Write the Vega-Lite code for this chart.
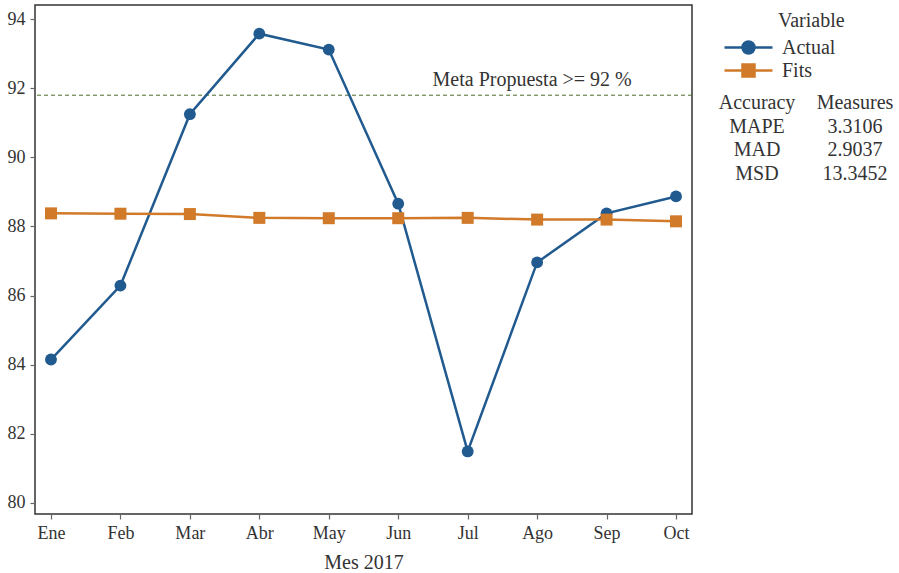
{
  "$schema": "https://vega.github.io/schema/vega-lite/v6.json",
  "padding": {"left": 6, "top": 4, "right": 0, "bottom": 0},
  "background": "white",
  "config": {
    "font": "Liberation Serif",
    "view": {"stroke": "#333333", "strokeWidth": 1.5},
    "axis": {
      "domain": false,
      "grid": false,
      "tickColor": "#666666",
      "tickSize": 5,
      "tickWidth": 1.2,
      "labelFontSize": 18,
      "labelColor": "#333333",
      "labelPadding": 5,
      "titleFontSize": 20,
      "titleFontWeight": "normal",
      "titleColor": "#333333"
    },
    "legend": {
      "titleFontSize": 20,
      "titleFontWeight": "normal",
      "titleColor": "#333333",
      "labelFontSize": 20,
      "labelColor": "#333333",
      "padding": 0
    }
  },
  "datasets": {
    "series": [
      {"mes": "Ene", "variable": "Actual", "valor": 84.15},
      {"mes": "Feb", "variable": "Actual", "valor": 86.29},
      {"mes": "Mar", "variable": "Actual", "valor": 91.25},
      {"mes": "Abr", "variable": "Actual", "valor": 93.58},
      {"mes": "May", "variable": "Actual", "valor": 93.12},
      {"mes": "Jun", "variable": "Actual", "valor": 88.66},
      {"mes": "Jul", "variable": "Actual", "valor": 81.49},
      {"mes": "Ago", "variable": "Actual", "valor": 86.96},
      {"mes": "Sep", "variable": "Actual", "valor": 88.38},
      {"mes": "Oct", "variable": "Actual", "valor": 88.87},
      {"mes": "Ene", "variable": "Fits", "valor": 88.38},
      {"mes": "Feb", "variable": "Fits", "valor": 88.37},
      {"mes": "Mar", "variable": "Fits", "valor": 88.36},
      {"mes": "Abr", "variable": "Fits", "valor": 88.25},
      {"mes": "May", "variable": "Fits", "valor": 88.24},
      {"mes": "Jun", "variable": "Fits", "valor": 88.24},
      {"mes": "Jul", "variable": "Fits", "valor": 88.25},
      {"mes": "Ago", "variable": "Fits", "valor": 88.2},
      {"mes": "Sep", "variable": "Fits", "valor": 88.2},
      {"mes": "Oct", "variable": "Fits", "valor": 88.15}
    ],
    "meta": [
      {"mes": "Ago", "valor": 91.8, "label": "Meta Propuesta >= 92 %"}
    ],
    "acc": [
      {"row": 0, "col": 0, "t": "Accuracy"},
      {"row": 0, "col": 1, "t": "Measures"},
      {"row": 1, "col": 0, "t": "MAPE"},
      {"row": 1, "col": 1, "t": "3.3106"},
      {"row": 2, "col": 0, "t": "MAD"},
      {"row": 2, "col": 1, "t": "2.9037"},
      {"row": 3, "col": 0, "t": "MSD"},
      {"row": 3, "col": 1, "t": "13.3452"}
    ]
  },
  "spacing": 10,
  "hconcat": [
    {
      "width": 657,
      "height": 509,
      "encoding": {
        "x": {
          "field": "mes",
          "type": "ordinal",
          "scale": {"type": "point", "domain": ["Ene", "Feb", "Mar", "Abr", "May", "Jun", "Jul", "Ago", "Sep", "Oct"], "padding": 0.23},
          "axis": {"title": "Mes 2017", "labelAngle": 0, "titlePadding": 10}
        },
        "y": {
          "field": "valor",
          "type": "quantitative",
          "scale": {"domain": [79.68, 94.41], "nice": false, "zero": false},
          "axis": {"title": null, "values": [80, 82, 84, 86, 88, 90, 92, 94]}
        }
      },
      "layer": [
        {
          "data": {"name": "meta"},
          "mark": {"type": "rule", "color": "#4a6b26", "strokeWidth": 1, "strokeDash": [4, 3]},
          "encoding": {"x": null}
        },
        {
          "data": {"name": "meta"},
          "mark": {"type": "text", "fontSize": 20, "color": "#333333", "align": "center", "baseline": "alphabetic", "dx": -5, "dy": -9},
          "encoding": {"text": {"field": "label"}}
        },
        {
          "data": {"name": "series"},
          "mark": {"type": "line", "strokeWidth": 2.5},
          "encoding": {
            "color": {
              "field": "variable",
              "type": "nominal",
              "scale": {"domain": ["Actual", "Fits"], "range": ["#215a8f", "#d07a2a"]},
              "legend": {
                "title": "Variable",
                "orient": "none",
                "legendX": 702,
                "legendY": 6,
                "symbolSize": 400,
                "symbolStrokeWidth": 2.5,
                "labelOffset": 22,
                "rowPadding": -4,
                "titlePadding": 5,
                "encode": {
                  "title": {"update": {"dx": {"value": 41}}},
                  "symbols": {
                    "update": {
                      "shape": {"signal": "datum.value === 'Actual' ? 'M-2.4,0L2.4,0M-0.6,0A0.6,0.6,0,1,1,0.6,0A0.6,0.6,0,1,1,-0.6,0Z' : 'M-2.4,0L2.4,0M-0.6,-0.6L0.6,-0.6L0.6,0.6L-0.6,0.6Z'"},
                      "fill": {"scale": "color", "field": "value"},
                      "stroke": {"scale": "color", "field": "value"},
                      "strokeWidth": {"value": 2.5},
                      "opacity": {"value": 1},
                      "fillOpacity": {"value": 1}
                    }
                  }
                }
              }
            }
          }
        },
        {
          "data": {"name": "series"},
          "transform": [{"filter": "datum.variable === 'Actual'"}],
          "mark": {"type": "point", "shape": "circle", "filled": true, "opacity": 1, "size": 140},
          "encoding": {"color": {"field": "variable", "type": "nominal"}}
        },
        {
          "data": {"name": "series"},
          "transform": [{"filter": "datum.variable === 'Fits'"}],
          "mark": {"type": "point", "shape": "square", "filled": true, "opacity": 1, "size": 144},
          "encoding": {"color": {"field": "variable", "type": "nominal"}}
        }
      ]
    },
    {
      "width": 190,
      "height": 509,
      "view": {"stroke": null},
      "data": {"name": "acc"},
      "mark": {"type": "text", "fontSize": 20, "color": "#333333", "align": "center", "baseline": "middle"},
      "encoding": {
        "x": {"field": "col", "type": "quantitative", "scale": {"domain": [-0.541, 1.398], "nice": false, "zero": false}, "axis": null},
        "y": {"field": "row", "type": "quantitative", "scale": {"domain": [-4.19, 17.47], "nice": false, "zero": false, "reverse": true}, "axis": null},
        "text": {"field": "t"}
      }
    }
  ]
}
